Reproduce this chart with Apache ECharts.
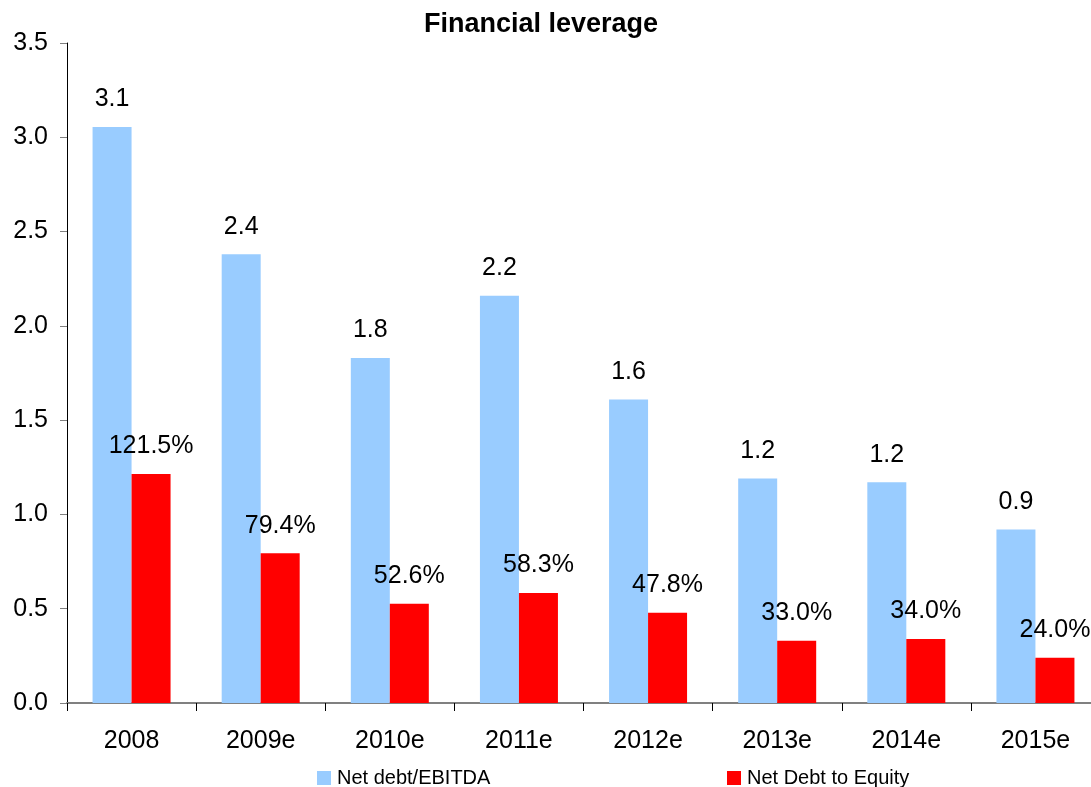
<!DOCTYPE html>
<html>
<head>
<meta charset="utf-8">
<script src="https://cdn.jsdelivr.net/npm/echarts@6/dist/echarts.min.js"></script>
<style>
html,body{margin:0;padding:0;background:#fff;}
#chart{width:1091px;height:787px;}
</style>
</head>
<body>
<div id="chart"></div>
<script>
const categories = ['2008','2009e','2010e','2011e','2012e','2013e','2014e','2015e'];
const netDebtEbitda = [3.055, 2.38, 1.83, 2.16, 1.61, 1.19, 1.17, 0.92];
const netDebtEquity = [1.215, 0.794, 0.526, 0.583, 0.478, 0.330, 0.340, 0.240];
const yTicks = [0, 0.5, 1.0, 1.5, 2.0, 2.5, 3.0, 3.5];

const FONT = 'Liberation Sans, Arial, sans-serif';
const r1 = v => (Math.round(v * 10 + 1e-9) / 10).toFixed(1);
const chart = echarts.init(document.getElementById('chart'));
chart.setOption({
  animation: false,
  backgroundColor: '#fff',
  textStyle: {fontFamily: FONT},
  title: {
    text: 'Financial leverage',
    left: 541, top: 11, textAlign: 'center', padding: 0,
    textStyle: {fontFamily: FONT, fontWeight: 'bold', fontSize: 27, color: '#000'}
  },
  legend: [
    {data: ['Net debt/EBITDA'], left: 317, top: 768, padding: 0, itemWidth: 14, itemHeight: 14, itemGap: 6,
     icon: 'rect', textStyle: {fontFamily: FONT, fontSize: 20, color: '#000', padding: [0,0,0,1]}},
    {data: ['Net Debt to Equity'], left: 727, top: 768, padding: 0, itemWidth: 14, itemHeight: 14, itemGap: 6,
     icon: 'rect', textStyle: {fontFamily: FONT, fontSize: 20, color: '#000', padding: [0,0,0,1]}}
  ],
  grid: {left: 67, width: 1033, top: 43, bottom: 84, containLabel: false, outerBoundsMode: 'none'},
  xAxis: {
    type: 'category',
    data: categories,
    axisLine: {lineStyle: {color: '#808080', width: 2}},
    axisTick: {show: true, length: 8, lineStyle: {color: '#000'}, alignWithLabel: false},
    axisLabel: {fontFamily: FONT, fontSize: 25, color: '#000', margin: 26},
    splitLine: {show: false}
  },
  yAxis: {
    type: 'value',
    min: yTicks[0], max: yTicks[yTicks.length - 1], interval: 0.5,
    axisLine: {show: true, lineStyle: {color: '#000'}},
    axisTick: {show: true, length: 7, lineStyle: {color: '#808080'}},
    axisLabel: {fontFamily: FONT, fontSize: 25, color: '#000', margin: 19,
      formatter: v => v.toFixed(1)},
    splitLine: {show: false}
  },
  series: [
    {
      name: 'Net debt/EBITDA', type: 'bar', data: netDebtEbitda,
      barWidth: 39, barGap: '0%',
      itemStyle: {color: '#99CCFF'},
      label: {show: true, position: 'top', distance: 15, fontFamily: FONT, fontSize: 25, color: '#000',
        formatter: p => r1(p.value)}
    },
    {
      name: 'Net Debt to Equity', type: 'bar', data: netDebtEquity,
      barWidth: 39, barGap: '0%',
      itemStyle: {color: '#FF0000'},
      label: {show: true, position: 'top', distance: 15, fontFamily: FONT, fontSize: 25, color: '#000',
        formatter: p => (p.value * 100).toFixed(1) + '%'}
    }
  ]
});
</script>
</body>
</html>
